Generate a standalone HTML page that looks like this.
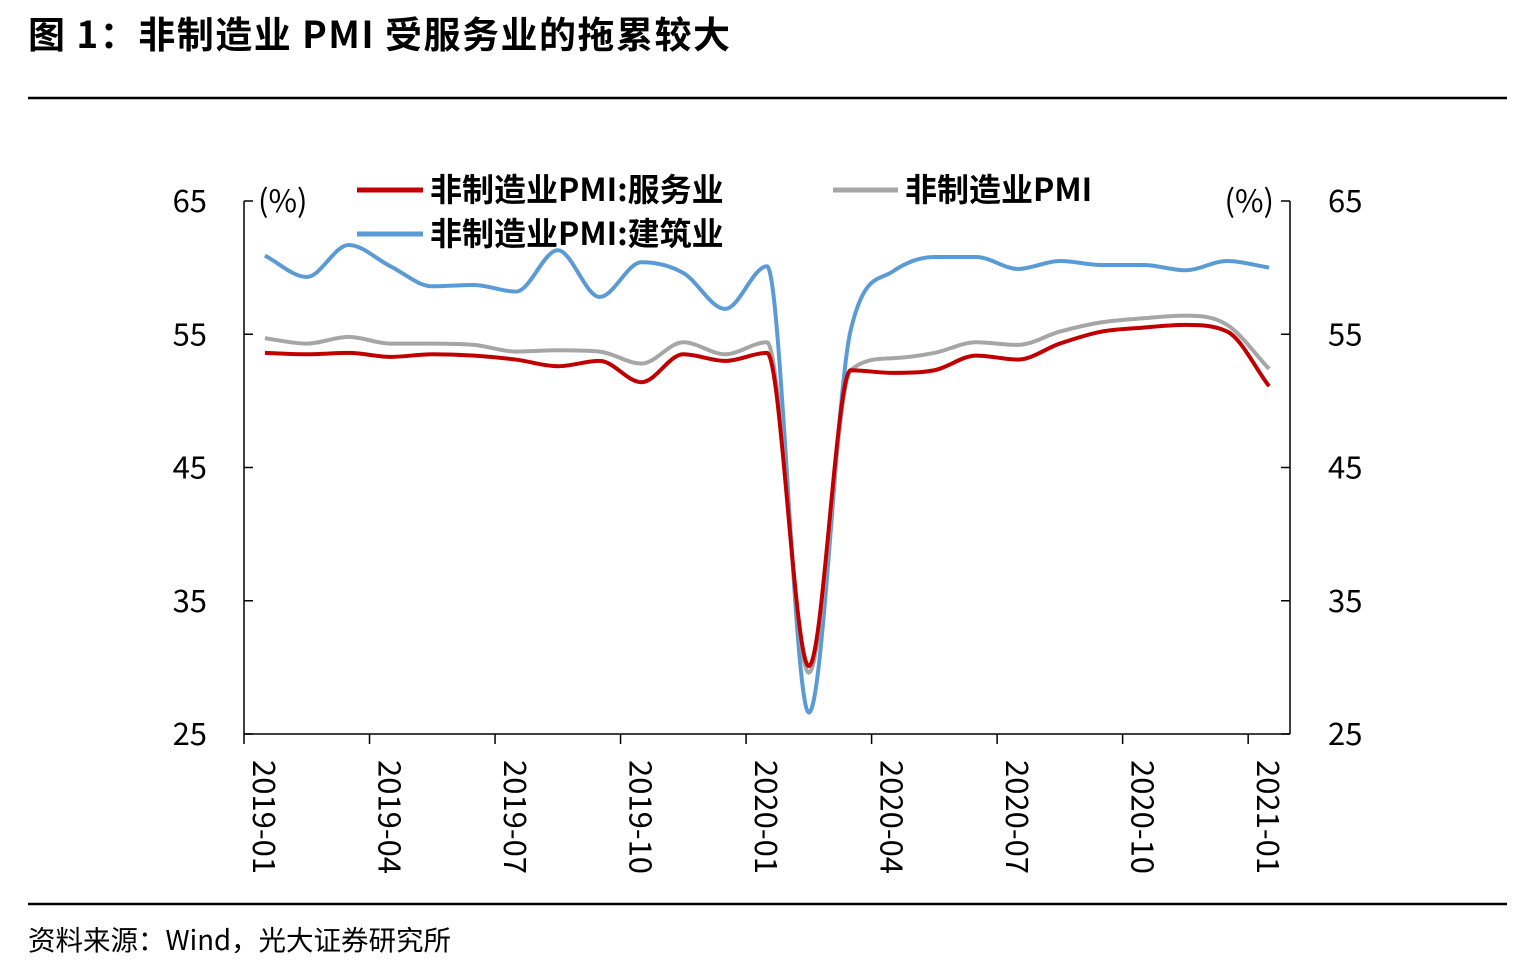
<!DOCTYPE html>
<html><head><meta charset="utf-8"><style>
body{margin:0;background:#fff;}
svg text{font-family:"Noto Sans CJK SC","Liberation Sans",sans-serif;}
</style></head><body>
<svg id="chart" width="1533" height="973" xmlns="http://www.w3.org/2000/svg">
<text x="28" y="48" font-size="37" font-weight="bold" letter-spacing="1.5" fill="#000">图 1：非制造业 PMI 受服务业的拖累较大</text>
<line x1="28" y1="98" x2="1507" y2="98" stroke="#000" stroke-width="2.5"/>
<line x1="28" y1="904" x2="1507" y2="904" stroke="#000" stroke-width="2.5"/>
<text x="28" y="950" font-size="27.5" fill="#000">资料来源：Wind，光大证券研究所</text>
<g id="axes"></g>
<g id="series"></g>
<g>
<line x1="357" y1="190" x2="423" y2="190" stroke="#c00000" stroke-width="5"/>
<text x="430" y="201" font-size="32" font-weight="bold">非制造业PMI:服务业</text>
<line x1="833" y1="190" x2="898" y2="190" stroke="#a6a6a6" stroke-width="5"/>
<text x="905" y="201" font-size="32" font-weight="bold">非制造业PMI</text>
<line x1="357" y1="234" x2="423" y2="234" stroke="#5b9bd5" stroke-width="5"/>
<text x="430" y="245" font-size="32" font-weight="bold">非制造业PMI:建筑业</text>
</g>
</svg>
<script>
const categories=["2019-01","2019-02","2019-03","2019-04","2019-05","2019-06","2019-07","2019-08","2019-09","2019-10","2019-11","2019-12","2020-01","2020-02","2020-03","2020-04","2020-05","2020-06","2020-07","2020-08","2020-09","2020-10","2020-11","2020-12","2021-01"];
const nonMfg=[54.7,54.3,54.8,54.3,54.3,54.2,53.7,53.8,53.7,52.8,54.4,53.5,54.4,29.6,52.3,53.2,53.6,54.4,54.2,55.2,55.9,56.2,56.4,55.7,52.4];
const services=[53.6,53.5,53.6,53.3,53.5,53.4,53.1,52.6,53.0,51.4,53.5,53.0,53.6,30.1,52.3,52.1,52.3,53.4,53.1,54.3,55.2,55.5,55.7,55.2,51.1];
const construction=[60.9,59.3,61.7,60.1,58.6,58.7,58.2,61.3,57.8,60.4,59.6,56.9,60.1,26.6,55.3,59.7,60.8,60.8,59.9,60.5,60.2,60.2,59.8,60.5,60.0];
const yTicks=[25,35,45,55,65];
const xTickLabels=["2019-01","2019-04","2019-07","2019-10","2020-01","2020-04","2020-07","2020-10","2021-01"];
const NS="http://www.w3.org/2000/svg";
const L=244,R=1290,T=201,B=734,ymin=25,ymax=65;
const band=(R-L)/categories.length;
function xs(i){return L+band*(i+0.5);}
function ys(v){return B-(v-ymin)/(ymax-ymin)*(B-T);}
function mk(tag,attrs,parent){const e=document.createElementNS(NS,tag);for(const k in attrs)e.setAttribute(k,attrs[k]);parent.appendChild(e);return e;}
const ax=document.getElementById('axes');
let e;
e=mk('line',{x1:L,y1:T,x2:L,y2:B,stroke:'#000','stroke-width':1.5},ax);


e=mk('line',{x1:R,y1:T,x2:R,y2:B,stroke:'#000','stroke-width':1.5},ax);


e=mk('line',{x1:L,y1:B,x2:R,y2:B,stroke:'#000','stroke-width':1.5},ax);


yTicks.forEach(v=>{const y=ys(v);
 mk('line',{x1:L,y1:y,x2:L+9,y2:y,stroke:'#000','stroke-width':1.5},ax);
 mk('line',{x1:R-9,y1:y,x2:R,y2:y,stroke:'#000','stroke-width':1.5},ax);
 e=mk('text',{x:207,y:y+11,'font-size':31,'text-anchor':'end'},ax);e.textContent=v;
 
 
 e=mk('text',{x:1328,y:y+11,'font-size':31},ax);e.textContent=v;
 
 
});
e=mk('text',{x:258,y:212,'font-size':31},ax);e.textContent='(%)';


e=mk('text',{x:1274,y:212,'font-size':31,'text-anchor':'end'},ax);e.textContent='(%)';


xTickLabels.forEach(lab=>{const i=categories.indexOf(lab);const x=L+band*i;
 mk('line',{x1:x,y1:B,x2:x,y2:B+10,stroke:'#000','stroke-width':1.5},ax);
 const cx=xs(i)-2;
 e=mk('text',{x:0,y:0,'font-size':31,transform:`translate(${cx-10},760) rotate(90)`},ax);e.textContent=lab;
 
 
});
function path(vals){const p=vals.map((v,i)=>[xs(i),ys(v)]);const n=p.length;
 const d=[],m=new Array(n);
 for(let i=0;i<n-1;i++)d.push((p[i+1][1]-p[i][1])/(p[i+1][0]-p[i][0]));
 m[0]=d[0];m[n-1]=d[n-2];
 for(let i=1;i<n-1;i++){m[i]=(d[i-1]*d[i]<=0)?0:(d[i-1]+d[i])/2;}
 for(let i=0;i<n-1;i++){if(d[i]===0){m[i]=0;m[i+1]=0;continue;}
  const a=m[i]/d[i],b=m[i+1]/d[i],s=a*a+b*b;if(s>9){const t=3/Math.sqrt(s);m[i]=t*a*d[i];m[i+1]=t*b*d[i];}}
 let s=`M${p[0][0]},${p[0][1]}`;
 for(let i=0;i<n-1;i++){const h=(p[i+1][0]-p[i][0])/3;
  s+=` C${p[i][0]+h},${p[i][1]+m[i]*h} ${p[i+1][0]-h},${p[i+1][1]-m[i+1]*h} ${p[i+1][0]},${p[i+1][1]}`;}
 return s;}
const sg=document.getElementById('series');
e=mk('path',{d:path(construction),fill:'none',stroke:'#5b9bd5','stroke-width':4},sg);


e=mk('path',{d:path(nonMfg),fill:'none',stroke:'#a6a6a6','stroke-width':4},sg);


e=mk('path',{d:path(services),fill:'none',stroke:'#c00000','stroke-width':4},sg);


</script>
</body></html>
